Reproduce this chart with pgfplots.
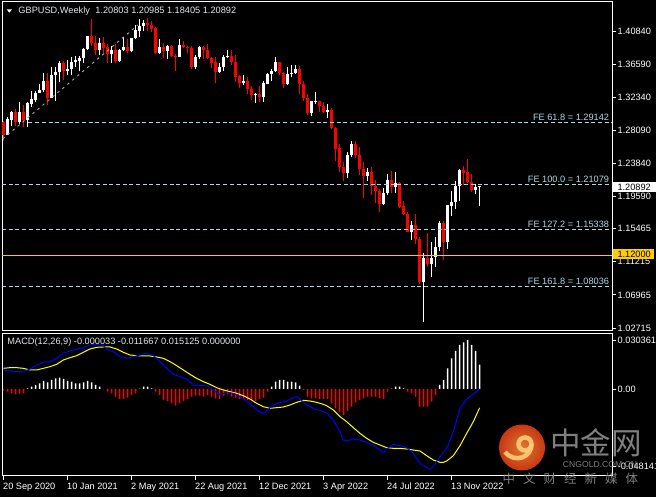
\documentclass[border=0pt]{standalone}
\usepackage{pgfplots}
\pgfplotsset{compat=1.18}
\usepackage{pgfplotstable}
\usepackage{fontspec}
\setmainfont{Liberation Sans}
\newfontfamily\cjk{Noto Sans CJK SC}
\definecolor{fe}{RGB}{173,216,230}
\definecolor{gold}{RGB}{255,204,0}
\definecolor{mtred}{RGB}{255,0,0}
\definecolor{mtblue}{RGB}{0,0,255}
\definecolor{mtyellow}{RGB}{255,255,0}
\definecolor{wmgray}{RGB}{150,150,150}
\definecolor{trend}{RGB}{170,170,170}
\definecolor{ttl}{RGB}{225,230,236}
\newcommand{\lf}{\fontsize{9.2bp}{10bp}\selectfont}

% bullish (white) weekly candles: index, open, high, low, close
\pgfplotstableread{
i O H L C
1 1.2747 1.2977 1.2745 1.2944
2 1.2944 1.3061 1.2863 1.3045
4 1.2918 1.3177 1.2895 1.3037
6 1.2945 1.3177 1.2854 1.3151
7 1.3151 1.3313 1.3105 1.3203
8 1.3203 1.3310 1.3166 1.3284
9 1.3284 1.3399 1.3282 1.3326
10 1.3326 1.3539 1.3300 1.3436
12 1.3229 1.3624 1.3218 1.3513
13 1.3513 1.3625 1.3188 1.3555
14 1.3555 1.3704 1.3430 1.3672
16 1.3565 1.3711 1.3520 1.3590
17 1.3590 1.3746 1.3521 1.3687
18 1.3687 1.3760 1.3626 1.3705
19 1.3705 1.3757 1.3566 1.3737
20 1.3737 1.3865 1.3674 1.3851
21 1.3851 1.4017 1.3843 1.4012
24 1.3835 1.3990 1.3778 1.3932
27 1.3790 1.3887 1.3670 1.3832
29 1.3702 1.3848 1.3683 1.3842
30 1.3842 1.4009 1.3822 1.3876
32 1.3823 1.4000 1.3808 1.3996
33 1.3996 1.4167 1.3986 1.4088
34 1.4088 1.4234 1.4010 1.4150
35 1.4150 1.4219 1.4082 1.4185
39 1.3803 1.3976 1.3786 1.3880
41 1.3827 1.3907 1.3730 1.3890
44 1.3747 1.3984 1.3745 1.3897
48 1.3620 1.3782 1.3602 1.3750
49 1.3750 1.3892 1.3726 1.3869
54 1.3554 1.3675 1.3546 1.3617
55 1.3617 1.3774 1.3571 1.3746
56 1.3746 1.3834 1.3737 1.3753
60 1.3412 1.3514 1.3397 1.3440
63 1.3258 1.3286 1.3161 1.3268
65 1.3235 1.3440 1.3173 1.3408
66 1.3408 1.3547 1.3402 1.3530
67 1.3530 1.3599 1.3437 1.3568
68 1.3568 1.3749 1.3561 1.3676
71 1.3399 1.3628 1.3385 1.3530
72 1.3530 1.3642 1.3489 1.3543
73 1.3543 1.3644 1.3526 1.3592
77 1.3030 1.3190 1.2999 1.3183
78 1.3183 1.3298 1.3142 1.3187
81 1.3038 1.3148 1.2972 1.3068
86 1.2262 1.2525 1.2197 1.2490
87 1.2490 1.2667 1.2472 1.2624
91 1.2228 1.2324 1.2160 1.2266
95 1.1860 1.2064 1.1855 1.2004
96 1.2004 1.2245 1.1984 1.2165
98 1.2075 1.2277 1.2003 1.2135
102 1.1508 1.1648 1.1405 1.1588
105 1.0858 1.1236 1.0350 1.1166
107 1.1088 1.1380 1.0924 1.1172
108 1.1180 1.1439 1.1060 1.1309
109 1.1309 1.1646 1.1257 1.1616
111 1.1377 1.1855 1.1290 1.1840
112 1.1840 1.2029 1.1710 1.1890
113 1.1890 1.2153 1.1803 1.2096
114 1.2096 1.2311 1.1900 1.2295
118 1.2047 1.2123 1.1990 1.2080
119 1.20803 1.20985 1.18405 1.20892
}\upT

% bearish (red) weekly candles
\pgfplotstableread{
i O H L C
0 1.2918 1.2925 1.2676 1.2747
3 1.3045 1.3083 1.2863 1.2918
5 1.3037 1.3139 1.2855 1.2945
11 1.3436 1.3540 1.3134 1.3229
15 1.3672 1.3704 1.3451 1.3565
22 1.4012 1.4241 1.3887 1.3925
23 1.3925 1.4017 1.3777 1.3835
25 1.3932 1.4001 1.3802 1.3868
26 1.3868 1.3914 1.3670 1.3790
28 1.3832 1.3920 1.3669 1.3702
31 1.3876 1.3975 1.3800 1.3823
36 1.4185 1.4249 1.4083 1.4155
37 1.4155 1.4217 1.4071 1.4114
38 1.4114 1.4133 1.3786 1.3803
40 1.3880 1.3926 1.3732 1.3827
42 1.3890 1.3909 1.3750 1.3758
43 1.3758 1.3790 1.3572 1.3747
45 1.3897 1.3958 1.3860 1.3875
46 1.3875 1.3890 1.3795 1.3867
47 1.3867 1.3891 1.3602 1.3620
50 1.3869 1.3892 1.3726 1.3840
51 1.3840 1.3913 1.3730 1.3734
52 1.3734 1.3750 1.3608 1.3676
53 1.3676 1.3749 1.3412 1.3554
57 1.3753 1.3835 1.3651 1.3681
58 1.3681 1.3770 1.3424 1.3499
59 1.3499 1.3513 1.3353 1.3412
61 1.3440 1.3491 1.3278 1.3337
62 1.3337 1.3374 1.3194 1.3258
64 1.3268 1.3375 1.3173 1.3235
69 1.3676 1.3686 1.3522 1.3545
70 1.3545 1.3558 1.3358 1.3399
74 1.3592 1.3639 1.3273 1.3404
75 1.3404 1.3440 1.3187 1.3225
76 1.3225 1.3275 1.3002 1.3030
79 1.3187 1.3190 1.3050 1.3115
80 1.3115 1.3166 1.3030 1.3038
82 1.3068 1.3090 1.2831 1.2835
83 1.2835 1.2857 1.2411 1.2572
84 1.2572 1.2638 1.2276 1.2333
85 1.2333 1.2406 1.2155 1.2262
88 1.2624 1.2666 1.2459 1.2490
89 1.2490 1.2599 1.2230 1.2312
90 1.2312 1.2406 1.1934 1.2228
92 1.2266 1.2333 1.1976 1.2096
93 1.2096 1.2166 1.1876 1.2030
94 1.2030 1.2053 1.1760 1.1860
97 1.2165 1.2293 1.2003 1.2075
99 1.2135 1.2143 1.1818 1.1830
100 1.1830 1.1900 1.1717 1.1736
101 1.1736 1.1761 1.1500 1.1508
103 1.1588 1.1738 1.1351 1.1415
104 1.1415 1.1440 1.0839 1.0858
106 1.1166 1.1495 1.1054 1.1088
110 1.1616 1.1645 1.1147 1.1377
115 1.2295 1.2345 1.2105 1.2264
116 1.2264 1.2446 1.2133 1.2140
117 1.2140 1.2242 1.2017 1.2047
}\dnT

% MACD histogram, positive bars (white)
\pgfplotstableread{
i v
6 0.00040
7 0.00145
8 0.00248
9 0.00351
10 0.00496
11 0.00413
12 0.00558
13 0.00661
14 0.00703
15 0.00620
16 0.00496
17 0.00455
18 0.00351
19 0.00351
20 0.00413
21 0.00496
22 0.00413
23 0.00248
24 0.00145
34 0.00020
35 0.00145
36 0.00145
37 0.00040
67 0.00145
68 0.00455
69 0.00558
70 0.00558
71 0.00455
72 0.00455
73 0.00413
74 0.00207
97 0.00020
98 0.00145
99 0.00145
100 0.00040
109 0.00248
110 0.00558
111 0.01282
112 0.01902
113 0.02356
114 0.02728
115 0.02894
116 0.03036
117 0.02728
118 0.02356
119 0.01513
}\histP

% MACD histogram, negative bars (red)
\pgfplotstableread{
i v
0 -0.00080
1 -0.00165
2 -0.00269
3 -0.00331
4 -0.00289
5 -0.00269
25 -0.00020
26 -0.00165
27 -0.00269
28 -0.00475
29 -0.00620
30 -0.00620
31 -0.00537
32 -0.00372
33 -0.00269
38 -0.00165
39 -0.00372
40 -0.00682
41 -0.00744
42 -0.00889
43 -0.01034
44 -0.00889
45 -0.00744
46 -0.00620
47 -0.00475
48 -0.00413
49 -0.00413
50 -0.00475
51 -0.00372
52 -0.00475
53 -0.00579
54 -0.00620
55 -0.00413
56 -0.00331
57 -0.00475
58 -0.00537
59 -0.00620
60 -0.00620
61 -0.00682
62 -0.00682
63 -0.00744
64 -0.00620
65 -0.00537
66 -0.00165
75 -0.00062
76 -0.00475
77 -0.00579
78 -0.00579
79 -0.00620
80 -0.00620
81 -0.00620
82 -0.00889
83 -0.01199
84 -0.01447
85 -0.01612
86 -0.01364
87 -0.01096
88 -0.00827
89 -0.00682
90 -0.00579
91 -0.00475
92 -0.00475
93 -0.00475
94 -0.00579
95 -0.00620
96 -0.00165
101 -0.00165
102 -0.00269
103 -0.00475
104 -0.01096
105 -0.01096
106 -0.01096
107 -0.00785
108 -0.00372
}\histN

% MACD main line (blue)
\pgfplotstableread{
i v
0 0.01178
1.6 0.01116
3.27 0.01075
4.93 0.01075
6.6 0.01240
8.27 0.01488
9.93 0.01654
11.6 0.01695
13.27 0.01902
14.93 0.02212
16.6 0.02356
18.27 0.02480
19.93 0.02563
21.6 0.02728
23.27 0.02770
24.93 0.02687
25.77 0.02480
27.43 0.02315
29.1 0.02005
30.77 0.01902
32.43 0.02005
34.1 0.02108
35.77 0.02212
37.43 0.02067
39.1 0.01695
40.77 0.01282
42.43 0.00909
44.1 0.00765
45.77 0.00620
47.43 0.00248
49.1 0.00207
50.77 0.00207
52.43 -0.00062
54.1 -0.00372
55.77 -0.00207
57.43 -0.00269
59.1 -0.00475
60.77 -0.00744
62.43 -0.01096
64.1 -0.01447
64.93 -0.01509
65.77 -0.01364
67.43 -0.00992
69.1 -0.00827
70.77 -0.00744
72.43 -0.00537
73.27 -0.00475
74.1 -0.00620
75.77 -0.00992
77.43 -0.01199
79.1 -0.01330
80.77 -0.01500
82.43 -0.01922
84.1 -0.02646
84.93 -0.03163
85.77 -0.03225
87.43 -0.03101
89.1 -0.03163
90.77 -0.03307
92.43 -0.03473
94.1 -0.03783
94.93 -0.03948
95.77 -0.03721
97.43 -0.03431
99.1 -0.03514
100.77 -0.03638
102.43 -0.03989
104.1 -0.04609
105.77 -0.04878
106.6 -0.04961
107.43 -0.04816
109.1 -0.04196
110.77 -0.03679
112.43 -0.02646
114.1 -0.01199
115.77 -0.00620
117.43 -0.00331
119 -0.00003
}\macdT

% signal line (yellow)
\pgfplotstableread{
i v
0 0.01282
1.6 0.01323
3.27 0.01323
4.93 0.01282
6.6 0.01178
8.27 0.01178
9.93 0.01282
11.6 0.01385
13.27 0.01530
14.93 0.01798
16.6 0.01943
18.27 0.02067
19.93 0.02274
21.6 0.02480
23.27 0.02584
24.93 0.02604
26.6 0.02604
28.27 0.02480
29.93 0.02274
31.6 0.02108
33.27 0.02067
34.93 0.02046
36.6 0.02046
38.27 0.01984
39.93 0.01902
41.6 0.01695
43.27 0.01447
44.93 0.01178
46.6 0.00909
48.27 0.00661
49.93 0.00455
51.6 0.00289
53.27 0.00083
54.93 -0.00062
56.6 -0.00165
58.27 -0.00269
59.93 -0.00413
61.6 -0.00620
63.27 -0.00889
64.93 -0.01096
66.6 -0.01199
68.27 -0.01158
69.93 -0.01116
71.6 -0.00992
73.27 -0.00827
74.93 -0.00703
76.6 -0.00744
78.27 -0.00827
79.93 -0.00951
80.77 -0.01034
82.43 -0.01302
84.1 -0.01716
85.77 -0.02026
87.43 -0.02398
89.1 -0.02749
90.77 -0.03059
92.43 -0.03307
94.1 -0.03473
95.77 -0.03638
97.43 -0.03679
99.1 -0.03679
100.77 -0.03721
102.43 -0.03783
104.1 -0.03845
105.77 -0.04134
107.43 -0.04403
109.1 -0.04547
109.93 -0.04547
110.77 -0.04465
112.43 -0.04134
114.1 -0.03514
115.77 -0.02749
117.43 -0.02026
119 -0.01167
}\sigT

\begin{document}
\begin{tikzpicture}[x=1bp,y=1bp]
\useasboundingbox (0,0) rectangle (656,497);
\fill[black] (0,0) rectangle (656,497);
\clip (0,0) rectangle (656,497);

% ---------------- price panel ----------------
\begin{axis}[
  at={(2bp,166bp)}, anchor=south west, scale only axis,
  width=610bp, height=329bp,
  xmin=-0.4, xmax=152.1, ymin=1.02329, ymax=1.44563,
  axis line style={white, line width=1bp},
  xtick=\empty,
  ytick pos=right, yticklabel pos=right,
  scaled y ticks=false,
  ytick={1.02715,1.06965,1.11215,1.15465,1.19590,1.23840,1.28090,1.32340,1.36590,1.40840},
  yticklabels={1.02715,1.06965,1.11215,1.15465,1.19590,1.23840,1.28090,1.32340,1.36590,1.40840},
  tick style={white, line width=0.8bp},
  major tick length=4bp, tick align=outside,
  yticklabel style={font=\lf, text=white, anchor=west, inner xsep=1.5bp},
  clip mode=individual,
]
% wicks
\addplot[draw=none, mark=none, error bars/.cd, y dir=plus, y explicit, error mark=none,
  error bar style={draw=white, solid, line width=1bp}]
  table[x=i, y=L, y error plus expr=\thisrow{H}-\thisrow{L}] {\upT};
\addplot[draw=none, mark=none, error bars/.cd, y dir=plus, y explicit, error mark=none,
  error bar style={draw=mtred, solid, line width=1bp}]
  table[x=i, y=L, y error plus expr=\thisrow{H}-\thisrow{L}] {\dnT};
% bodies
\addplot[draw=none, mark=none, error bars/.cd, y dir=plus, y explicit, error mark=none,
  error bar style={draw=white, solid, line width=3bp}]
  table[x=i, y=O, y error plus expr=\thisrow{C}-\thisrow{O}+0.0004] {\upT};
\addplot[draw=none, mark=none, error bars/.cd, y dir=plus, y explicit, error mark=none,
  error bar style={draw=mtred, solid, line width=3bp}]
  table[x=i, y=C, y error plus expr=\thisrow{O}-\thisrow{C}+0.0004] {\dnT};

% drawn objects
\addplot[trend, line width=0.9bp, dash pattern=on 2.5bp off 4bp] coordinates {(-0.225,1.26987) (33.6,1.41610)};
\addplot[fe, line width=0.9bp, dash pattern=on 4bp off 2.7bp] coordinates {(6.2,1.29142) (152.1,1.29142)};
\addplot[fe, line width=0.9bp, dash pattern=on 4bp off 2.7bp] coordinates {(-0.4,1.21079) (152.1,1.21079)};
\addplot[fe, line width=0.9bp, dash pattern=on 4bp off 2.7bp] coordinates {(-0.4,1.15338) (152.1,1.15338)};
\addplot[fe, line width=0.9bp, dash pattern=on 4bp off 2.7bp] coordinates {(-0.4,1.08036) (152.1,1.08036)};
\addplot[gold, line width=1.2bp] coordinates {(-0.4,1.12) (152.1,1.12)};

\node[anchor=base east, inner sep=0, text=fe, font=\lf] at (axis cs:151.4,1.29142) [yshift=2bp] {FE 61.8 = 1.29142};
\node[anchor=base east, inner sep=0, text=fe, font=\lf] at (axis cs:151.4,1.21079) [yshift=2bp] {FE 100.0 = 1.21079};
\node[anchor=base east, inner sep=0, text=fe, font=\lf] at (axis cs:151.4,1.15338) [yshift=2bp] {FE 127.2 = 1.15338};
\node[anchor=base east, inner sep=0, text=fe, font=\lf] at (axis cs:151.4,1.08036) [yshift=2bp] {FE 161.8 = 1.08036};
\end{axis}

% ---------------- MACD panel ----------------
\begin{axis}[
  at={(2bp,21bp)}, anchor=south west, scale only axis,
  width=610bp, height=142bp,
  xmin=-0.4, xmax=152.1, ymin=-0.05394, ymax=0.0341,
  axis line style={white, line width=1bp},
  xtick={0,16,32,48,64,80,96,112},
  xticklabels={20 Sep 2020,10 Jan 2021,2 May 2021,22 Aug 2021,12 Dec 2021,3 Apr 2022,24 Jul 2022,13 Nov 2022},
  xtick pos=left,
  xticklabel style={font=\lf, text=white, anchor=north west, inner xsep=0pt, inner ysep=2.5bp, xshift=-0.6bp},
  ytick pos=right, yticklabel pos=right,
  scaled y ticks=false,
  ytick={-0.048141,0,0.030361},
  yticklabels={-0.048141,0.00,0.030361},
  yticklabel style={font=\lf, text=white, anchor=west, inner xsep=1.5bp},
  tick style={white, line width=0.8bp},
  major tick length=4bp, tick align=outside,
  clip mode=individual,
]
\addplot[ybar, bar width=1.3bp, bar shift=0pt, fill=white, draw=none, mark=none] table[x=i, y=v] {\histP};
\addplot[ybar, bar width=1.4bp, bar shift=0pt, fill=mtred, draw=none, mark=none] table[x=i, y=v] {\histN};
\addplot[mtyellow, line width=1bp, mark=none] table[x=i, y=v] {\sigT};
\addplot[mtblue, line width=1bp, mark=none] table[x=i, y=v] {\macdT};
\end{axis}

% ---------------- header texts ----------------
\fill[white] (6.7,487.7) -- (12,487.7) -- (9.35,484.3) -- cycle;
\node[anchor=base west, inner sep=0, text=ttl, font=\lf] at (18.3,483) {GBPUSD,Weekly\hspace{3bp} 1.20803 1.20985 1.18405 1.20892};
\node[anchor=base west, inner sep=0, text=ttl, font=\lf] at (7.3,152) {MACD(12,26,9) -0.000033 -0.011667 0.015125 0.000000};

% price tags on the right scale
\fill[white] (612.7,304.7) rectangle (656,315.3);
\node[anchor=base west, inner sep=0, text=black, font=\lf] at (617.3,306.4) {1.20892};
\fill[gold] (612.7,237.7) rectangle (654,247.7);
\node[anchor=base west, inner sep=0, text=black, font=\lf] at (617.3,239.6) {1.12000};

% ---------------- watermark ----------------
\begin{scope}[opacity=0.9]
\shade[inner color={rgb,255:red,245;green,135;blue,55}, outer color={rgb,255:red,222;green,62;blue,22}] (522,49.5) circle (23);
\draw[line width=4.5bp, color={rgb,255:red,250;green,205;blue,120}] (525,53) circle (6.5);
\draw[line width=4.5bp, color={rgb,255:red,250;green,205;blue,120}] (531.5,53) .. controls (532,40) and (515,33) .. (505,45);
\end{scope}
\node[inner sep=0, text=wmgray, opacity=0.85, font={\cjk\fontsize{30.5bp}{31bp}\selectfont}] at (596,54) {中金网};
\node[inner sep=0, text=wmgray, opacity=0.85, font={\fontsize{8.6bp}{9bp}\selectfont}] at (600,32.5) {CNGOLD.COM.CN};
\foreach \c [count=\k from 0] in {中,文,财,经,新,媒,体}
  \node[inner sep=0, text=wmgray, opacity=0.85, font={\cjk\fontsize{12.5bp}{13bp}\selectfont}] at (508.8+20.5*\k,18.5) {\c};
\end{tikzpicture}
\end{document}
